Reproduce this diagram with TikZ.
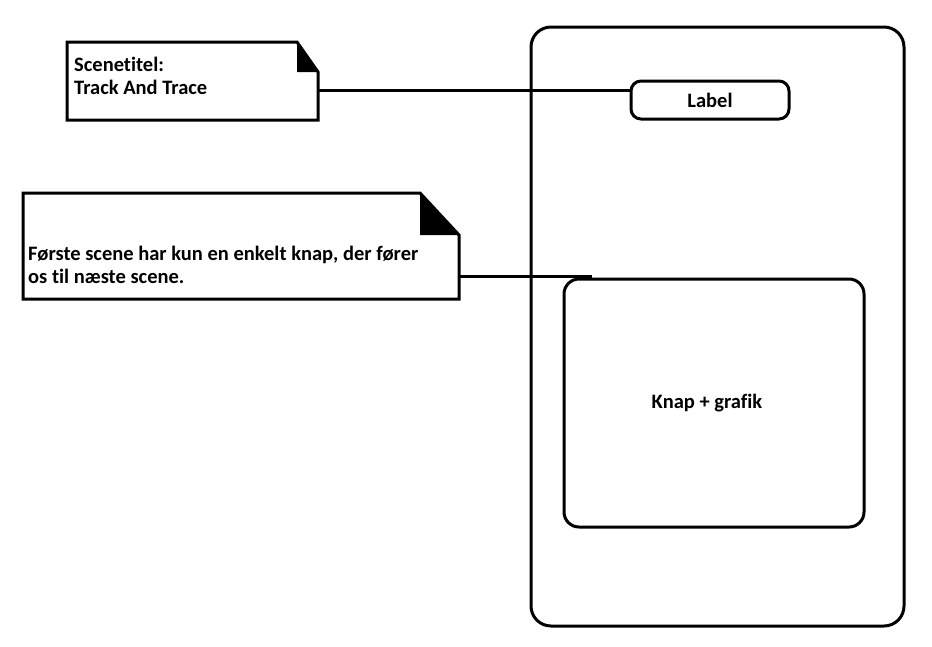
\documentclass[tikz,border=0pt]{standalone}
\usepackage{fontspec}
\setmainfont{Carlito}[Ligatures={NoCommon}]
\usetikzlibrary{positioning}

\tikzset{
	thick line/.style={line width=3pt},
	note/.style={inner sep=0pt, outer sep=0pt},
	box/.style={draw, thick line, rounded corners=#1, inner sep=0pt, outer sep=0pt},
	txt/.style={font=\bfseries\fontsize{20.5}{23}\selectfont, align=left, anchor=west, inner sep=0pt}
}
% folded note outline: node name, fold width, fold height
\newcommand{\notefold}[3]{%
	\draw[thick line, line join=miter] (#1.north west) -- ([xshift=-#2]#1.north east) -- ([yshift=-#3]#1.north east) -- (#1.south east) -- (#1.south west) -- cycle;
	\fill ([xshift=-#2]#1.north east) -- ([yshift=-#3]#1.north east) -- ([xshift=-#2, yshift=-#3]#1.north east) -- cycle;}

\begin{document}
\begin{tikzpicture}[x=1pt, y=-1pt]
	\useasboundingbox (0,0) rectangle (932,646);
	
	\node[box=20pt, minimum width=373pt, minimum height=599pt] (phone) at (717.5,326.5) {};
	\node[box=10pt, minimum width=158pt, minimum height=38pt, font=\bfseries\fontsize{20.5}{23}\selectfont] (label) at (710,100) {Label};
	\node[box=15pt, minimum width=300pt, minimum height=248pt] (knap) at (714,403) {};
	\node[txt, anchor=center] (knap text) at (707,403) {Knap + grafik};
	
	\node[note, minimum width=251pt, minimum height=78pt] (title) at (192.5,81) {};
	\notefold{title}{21pt}{30pt}
	\node[txt] (title text) at (74,76) {Scenetitel:\\Track And Trace};
	
	\node[note, minimum width=436pt, minimum height=106pt] (intro) at (241,246) {};
	\notefold{intro}{39pt}{42pt}
	\node[txt] (intro text) at (28,265) {Første scene har kun en enkelt knap, der fører\\os til næste scene.};
	
	\coordinate (knap top) at (592,276);
	\draw[thick line] (title.east |- 0,90) -- (label.west |- 0,90);
	\draw[thick line] (intro.east |- knap top) -- (knap top);
\end{tikzpicture}
\end{document}
